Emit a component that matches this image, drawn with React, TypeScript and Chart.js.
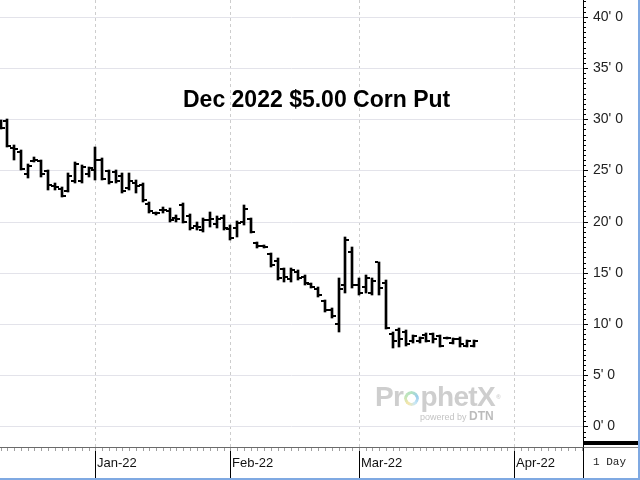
import { useEffect, useRef } from 'react';
import { Chart, registerables } from 'chart.js';

Chart.register(...registerables);

// Daily sessions, Dec 13 2021 – Mar 24 2022
const sessions = [
  '2021-12-13', '2021-12-14', '2021-12-15', '2021-12-16', '2021-12-17', '2021-12-20', '2021-12-21',
  '2021-12-22', '2021-12-23', '2021-12-27', '2021-12-28', '2021-12-29', '2021-12-30', '2021-12-31',
  '2022-01-03', '2022-01-04', '2022-01-05', '2022-01-06', '2022-01-07', '2022-01-10', '2022-01-11',
  '2022-01-12', '2022-01-13', '2022-01-14', '2022-01-18', '2022-01-19', '2022-01-20', '2022-01-21',
  '2022-01-24', '2022-01-25', '2022-01-26', '2022-01-27', '2022-01-28', '2022-01-31',
  '2022-02-01', '2022-02-02', '2022-02-03', '2022-02-04', '2022-02-07', '2022-02-08', '2022-02-09',
  '2022-02-10', '2022-02-11', '2022-02-14', '2022-02-15', '2022-02-16', '2022-02-17', '2022-02-18',
  '2022-02-22', '2022-02-23', '2022-02-24', '2022-02-25', '2022-02-28',
  '2022-03-01', '2022-03-02', '2022-03-03', '2022-03-04', '2022-03-07', '2022-03-08', '2022-03-09',
  '2022-03-10', '2022-03-11', '2022-03-14', '2022-03-15', '2022-03-16', '2022-03-17', '2022-03-18',
  '2022-03-21', '2022-03-22', '2022-03-23', '2022-03-24',
];

// Premium in cents (whole cents ' eighths)
const opens = [
  29.8, 29.8, 27.2, 26.8, 24.6, 25.9, 25.9, 24.9, 23.5, 23.2, 23.0, 24.0, 24.0, 24.6,
  25.0, 26.0, 24.9, 24.8, 24.5, 23.3, 23.8, 23.6, 21.7, 20.8, 21.1, 21.0, 20.4, 21.6, 20.5, 19.6,
  19.2, 20.2, 19.8, 20.4,
  19.3, 19.4, 20.0, 20.3, 17.9, 17.6, 16.8, 16.2, 15.4, 14.4, 15.1, 14.6, 13.9, 13.4, 12.2, 11.4,
  10.0, 13.8, 17.0,
  13.8, 13.6, 13.0, 16.1, 14.0, 9.0, 9.4, 9.2, 8.3, 8.3, 8.9, 9.0, 8.8, 8.6, 8.1, 8.5, 7.9, 7.9,
];
const highs = [
  29.9, 30.0, 27.5, 27.0, 25.6, 26.3, 26.0, 25.0, 23.8, 23.4, 24.7, 25.8, 25.5, 25.3,
  27.3, 26.2, 25.0, 25.0, 24.7, 24.7, 24.1, 23.8, 21.9, 20.9, 21.4, 21.3, 20.6, 21.8, 20.7, 20.0,
  20.4, 20.9, 20.5, 20.6,
  19.7, 20.1, 21.6, 20.4, 18.0, 17.7, 16.9, 16.4, 15.5, 15.5, 15.3, 14.8, 14.0, 13.6, 12.3, 11.6,
  14.5, 18.5, 17.5,
  14.5, 14.8, 14.5, 16.1, 14.3, 9.2, 9.6, 9.4, 8.9, 8.7, 9.1, 9.1, 8.9, 8.7, 8.6, 8.7, 8.4, 8.4,
];
const lows = [
  29.0, 27.3, 26.0, 25.0, 24.3, 25.8, 24.4, 23.1, 23.1, 22.4, 22.9, 23.8, 23.8, 24.4,
  24.1, 24.1, 23.7, 23.8, 22.8, 23.1, 22.8, 21.9, 20.8, 20.6, 20.8, 20.0, 20.0, 19.9, 19.2, 19.2,
  19.0, 19.5, 19.4, 19.2,
  18.2, 18.5, 19.7, 18.9, 17.4, 17.4, 15.6, 14.3, 14.1, 14.1, 14.3, 13.8, 13.5, 12.6, 11.2, 10.6,
  9.2, 13.0, 13.5,
  12.8, 13.0, 12.8, 12.8, 9.5, 7.7, 7.8, 7.9, 8.1, 8.1, 8.2, 8.1, 7.8, 8.5, 8.0, 7.8, 7.8, 7.8,
];
const closes = [
  29.1, 27.4, 27.1, 25.1, 25.4, 26.0, 24.6, 23.6, 23.4, 22.5, 24.5, 25.6, 25.3, 25.2,
  26.0, 24.2, 23.9, 24.0, 23.0, 24.0, 23.5, 22.1, 21.0, 20.8, 21.1, 20.2, 20.3, 20.0, 19.4, 19.5,
  20.2, 20.3, 20.3, 19.4,
  18.4, 19.9, 21.2, 19.0, 17.6, 17.5, 15.8, 14.5, 14.6, 15.3, 14.5, 14.0, 13.6, 12.8, 11.4, 10.8,
  13.4, 18.2, 13.8,
  13.0, 14.5, 14.2, 13.5, 9.6, 8.3, 8.5, 8.0, 8.8, 8.6, 8.3, 8.5, 7.9, 8.6, 8.5, 8.0, 8.3, 8.3,
];

// First session of each month (index into sessions; Apr 1 falls past the data)
const monthTicks = [14, 34, 53, 76];
const monthLabels = ['Jan-22', 'Feb-22', 'Mar-22', 'Apr-22'];
const priceTicks = [0, 5, 10, 15, 20, 25, 30, 35, 40];

const X_MIN = -0.106;
const X_MAX = 86.19;
const Y_MIN = -2.01;
const Y_MAX = 41.64;

function tickImage(side: 'left' | 'right') {
  const c = document.createElement('canvas');
  c.width = 8;
  c.height = 2;
  const g = c.getContext('2d')!;
  g.fillStyle = '#000';
  g.fillRect(side === 'left' ? 0 : 5, 0, 3, 2);
  return c;
}

// small session marks under the date axis and half-cent marks on the price axis
const minorTicks = {
  id: 'minorTicks',
  afterDraw(chart: any) {
    const { ctx, chartArea, scales } = chart;
    const x = scales.x;
    const y = scales.y;
    ctx.save();
    ctx.lineWidth = 1;
    ctx.strokeStyle = '#a0a0a0';
    ctx.beginPath();
    for (let i = Math.ceil(x.min); i <= Math.floor(x.max); i++) {
      const px = Math.round(x.getPixelForValue(i)) + 0.5;
      ctx.moveTo(px, chartArea.bottom + 1);
      ctx.lineTo(px, chartArea.bottom + 4);
    }
    ctx.stroke();
    ctx.strokeStyle = '#000';
    ctx.beginPath();
    for (let v = -1; v <= y.max; v += 0.5) {
      const py = Math.round(y.getPixelForValue(v)) + 0.5;
      ctx.moveTo(chartArea.right, py);
      ctx.lineTo(chartArea.right + 3, py);
    }
    ctx.stroke();
    ctx.restore();
  },
};

function PriceChart() {
  const ref = useRef<HTMLCanvasElement | null>(null);

  useEffect(() => {
    const canvas = ref.current;
    if (!canvas) return;
    const chart = new Chart(canvas, {
      type: 'bar',
      data: {
        datasets: [
          {
            type: 'bar',
            data: sessions.map((_, i) => ({ x: i, y: [lows[i], highs[i]] })) as any,
            backgroundColor: '#000',
            borderWidth: 0,
            barThickness: 2,
            grouped: false,
            order: 2,
          },
          {
            type: 'line',
            data: opens.map((v, i) => ({ x: i, y: v })),
            showLine: false,
            pointStyle: tickImage('left') as any,
            pointRadius: 3,
            order: 1,
          },
          {
            type: 'line',
            data: closes.map((v, i) => ({ x: i, y: v })),
            showLine: false,
            pointStyle: tickImage('right') as any,
            pointRadius: 3,
            order: 1,
          },
        ],
      },
      options: {
        animation: false,
        responsive: false,
        devicePixelRatio: 1,
        events: [],
        layout: { padding: 0, autoPadding: false },
        plugins: { legend: { display: false }, tooltip: { enabled: false } },
        scales: {
          x: {
            type: 'linear',
            position: 'bottom',
            min: X_MIN,
            max: X_MAX,
            offset: false,
            alignToPixels: true,
            afterBuildTicks: (s: any) => {
              s.ticks = monthTicks.map((v) => ({ value: v }));
            },
            afterFit: (s: any) => {
              s.height = 33;
              s.paddingLeft = 0;
              s.paddingRight = 0;
            },
            ticks: {
              autoSkip: false,
              maxRotation: 0,
              align: 'start',
              padding: -24,
              labelOffset: 2,
              color: '#111',
              font: { family: '"Liberation Sans", Arial, sans-serif', size: 13 },
              callback: (v: any) => {
                const k = monthTicks.indexOf(Number(v));
                return k >= 0 ? monthLabels[k] : '';
              },
            },
            grid: {
              offset: false,
              color: '#cdcdcd',
              tickColor: '#000',
              tickLength: 33,
              tickWidth: 1,
              tickBorderDash: [],
            },
            border: { color: '#6a6a6a', dash: [3, 3] },
          } as any,
          y: {
            type: 'linear',
            position: 'right',
            min: Y_MIN,
            max: Y_MAX,
            alignToPixels: true,
            afterBuildTicks: (s: any) => {
              s.ticks = priceTicks.map((v) => ({ value: v }));
            },
            afterFit: (s: any) => {
              s.width = 57;
              s.paddingTop = 0;
              s.paddingBottom = 0;
            },
            ticks: {
              padding: 5,
              color: '#222',
              font: { family: '"Liberation Sans", Arial, sans-serif', size: 14 },
              callback: (v: any) => `${v}' 0`,
            },
            grid: { color: '#e3e3ea', tickColor: '#000', tickLength: 5 },
            border: { color: '#000' },
          } as any,
        },
      },
      plugins: [minorTicks],
    });
    return () => chart.destroy();
  }, []);

  return <canvas ref={ref} width={640} height={480} style={{ display: 'block' }} />;
}

export default function App() {
  const sans = '"Liberation Sans", Arial, sans-serif';
  return (
    <div style={{ position: 'fixed', left: 0, top: 0, width: 640, height: 480, background: '#fff', overflow: 'hidden' }}>
      <PriceChart />
      <div
        style={{
          position: 'absolute', left: 183, top: 86, font: `bold 23px ${sans}`, color: '#000',
          whiteSpace: 'nowrap', lineHeight: '26px',
        }}
      >
        Dec 2022 $5.00 Corn Put
      </div>
      <div style={{ position: 'absolute', left: 375, top: 381, pointerEvents: 'none', opacity: 0.85 }}>
        <div
          style={{
            font: `bold 28px ${sans}`, color: '#c6c6c6', whiteSpace: 'nowrap', lineHeight: '32px',
            letterSpacing: -0.6,
          }}
        >
          Pr
          <span
            style={{
              display: 'inline-block', width: 15, height: 15, margin: '0 1px', borderRadius: '50%',
              background: 'conic-gradient(#7fcf9a, #5aaee0, #a6d8f0, #f1d670, #9bd48c, #7fcf9a)',
              WebkitMaskImage: 'radial-gradient(circle, transparent 4px, #000 4.6px)',
              maskImage: 'radial-gradient(circle, transparent 4px, #000 4.6px)',
              opacity: 0.7,
            }}
          />
          phetX
          <span style={{ fontSize: 6, verticalAlign: 'top', marginLeft: 1, letterSpacing: 0 }}>®</span>
        </div>
        <div style={{ position: 'absolute', left: 45, top: 28, whiteSpace: 'nowrap', color: '#b8b8b8', font: `9px ${sans}` }}>
          powered by <span style={{ font: `bold 12px ${sans}`, color: '#b0b0b0' }}>DTN</span>
        </div>
      </div>
      <div style={{ position: 'absolute', left: 584, top: 441, width: 56, height: 4, background: '#000' }} />
      <div
        style={{
          position: 'absolute', left: 583, top: 447, width: 56, height: 33, borderLeft: '1px solid #000',
          borderTop: '1px solid #888', boxSizing: 'border-box', font: '11px "Liberation Mono", monospace',
          color: '#222', paddingLeft: 9, paddingTop: 8, whiteSpace: 'nowrap',
        }}
      >
        1 Day
      </div>
      <div style={{ position: 'absolute', left: 638, top: 0, width: 2, height: 480, background: '#7fa9e2' }} />
      <div style={{ position: 'absolute', left: 0, top: 478, width: 640, height: 2, background: '#7fa9e2' }} />
    </div>
  );
}
